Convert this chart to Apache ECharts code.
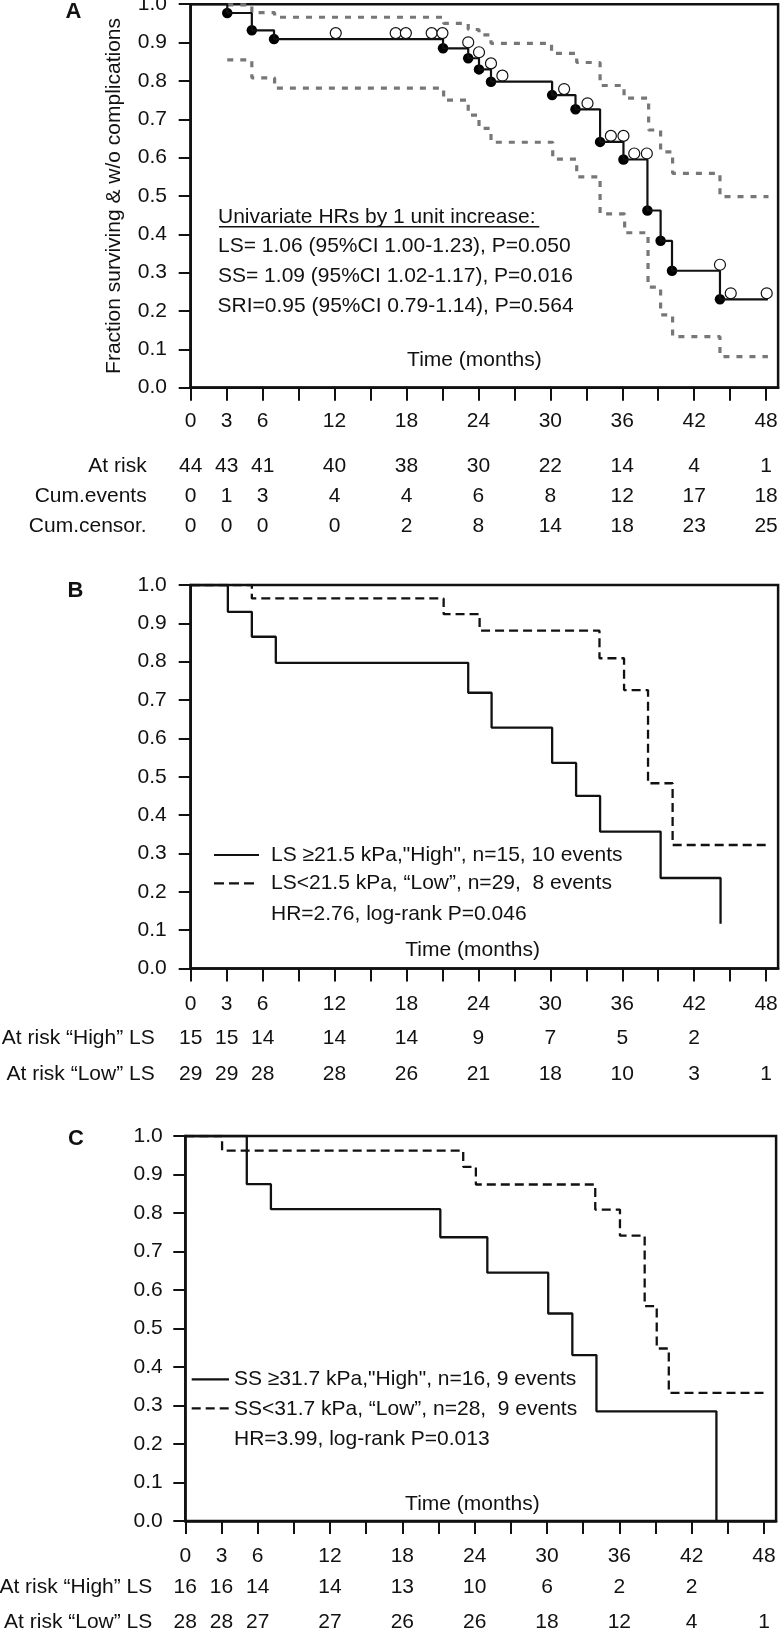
<!DOCTYPE html>
<html>
<head>
<meta charset="utf-8">
<title>Survival without complications</title>
<script src="https://cdn.jsdelivr.net/npm/echarts@6/dist/echarts.min.js"></script>
<style>
  html, body { margin: 0; padding: 0; background: #fff; }
  #chart { width: 781px; height: 1631px; }
</style>
</head>
<body>
<div id="chart"></div>
<script>
// ---- data ----
const xTicks = [0, 3, 6, 9, 12, 15, 18, 21, 24, 27, 30, 33, 36, 39, 42, 45, 48]
const riskTimes = [0, 3, 6, 12, 18, 24, 30, 36, 42, 48]

// Panel A: whole cohort, KM + 95% CI
const kmTimeA = [0, 3.05, 5.1, 6.95, 21.05, 23.15, 24.05, 25.05, 30.15, 32.1, 34.15, 36.1, 38.1, 39.2, 40.15, 44.15, 48.15]
const kmSurvA = [1.0, 0.977, 0.932, 0.909, 0.885, 0.859, 0.830, 0.798, 0.763, 0.726, 0.641, 0.595, 0.462, 0.383, 0.305, 0.2305, 0.2305]
const censorTimeA = [12.1, 17.1, 17.95, 20.1, 21.0, 23.15, 24.05, 25.05, 26.0, 31.15, 33.1, 35.05, 36.1, 37.0, 38.05, 44.15, 45.05, 48.05]
const censorSurvA = [0.909, 0.909, 0.909, 0.909, 0.909, 0.885, 0.859, 0.830, 0.798, 0.763, 0.726, 0.641, 0.641, 0.595, 0.595, 0.305, 0.2305, 0.2305]
const ciUpTimeA = [3.05, 5.1, 7.0, 21.1, 23.15, 24.05, 25.05, 30.1, 32.2, 34.15, 36.15, 38.2, 39.2, 40.2, 44.15, 48.2]
const ciUpA = [0.998, 0.978, 0.966, 0.950, 0.934, 0.920, 0.898, 0.872, 0.848, 0.788, 0.755, 0.672, 0.615, 0.559, 0.498, 0.498]
const ciLoTimeA = [3.05, 5.1, 7.0, 21.1, 23.15, 24.05, 25.05, 30.2, 32.2, 34.15, 36.2, 38.15, 39.2, 40.2, 44.15, 48.15]
const ciLoA = [0.855, 0.808, 0.781, 0.750, 0.711, 0.676, 0.640, 0.596, 0.550, 0.453, 0.404, 0.262, 0.190, 0.133, 0.081, 0.081]

const riskRowsA = ['At risk', 'Cum.events', 'Cum.censor.']
const atRiskA = [44, 43, 41, 40, 38, 30, 22, 14, 4, 1]
const cumEventsA = [0, 1, 3, 4, 4, 6, 8, 12, 17, 18]
const cumCensorA = [0, 0, 0, 0, 2, 8, 14, 18, 23, 25]

// Panel B: liver stiffness high / low
const highTimeB = [0, 3.1, 5.1, 7.1, 23.15, 25.1, 30.15, 32.15, 34.15, 39.2, 44.2]
const highSurvB = [1.0, 0.930, 0.865, 0.797, 0.719, 0.628, 0.536, 0.450, 0.357, 0.236, 0.117]
const lowTimeB = [0, 5.1, 21.1, 24.1, 34.1, 36.15, 38.15, 40.2, 48.2]
const lowSurvB = [1.0, 0.965, 0.924, 0.881, 0.809, 0.726, 0.483, 0.322, 0.322]

const riskRowsB = ['At risk “High” LS', 'At risk “Low” LS']
const atRiskHighB = [15, 15, 14, 14, 14, 9, 7, 5, 2, null]
const atRiskLowB = [29, 29, 28, 28, 26, 21, 18, 10, 3, 1]

// Panel C: spleen stiffness high / low
const highTimeC = [0, 5.1, 7.1, 21.15, 25.05, 30.1, 32.1, 34.1, 44.05]
const highSurvC = [1.0, 0.875, 0.810, 0.737, 0.645, 0.539, 0.431, 0.285, 0.0]
const lowTimeC = [0, 3.05, 23.05, 24.1, 34.0, 36.05, 38.1, 39.1, 40.1, 48.05]
const lowSurvC = [1.0, 0.962, 0.920, 0.874, 0.809, 0.741, 0.558, 0.448, 0.333, 0.333]

const riskRowsC = ['At risk “High” LS', 'At risk “Low” LS']
const atRiskHighC = [16, 16, 14, 14, 13, 10, 6, 2, 2, null]
const atRiskLowC = [28, 28, 27, 27, 26, 26, 18, 12, 4, 1]

// ---- styling helpers ----
const FONT = '"Liberation Sans", Arial, sans-serif'
const INK = '#111'
const FS = 21

const pairs = (xs, ys) => xs.map((x, i) => [x, ys[i]])

function plotX (grid, labelMargin) {
  return {
    gridIndex: grid, type: 'value', min: 0, max: 49,
    axisLine: { show: true, onZero: false, lineStyle: { color: INK, width: 2.5 } },
    axisTick: { show: true, customValues: xTicks, length: 13, lineStyle: { color: INK, width: 2 } },
    axisLabel: { customValues: riskTimes, margin: labelMargin, fontSize: FS, color: INK, fontFamily: FONT },
    splitLine: { show: false }
  }
}

function plotY (grid, labelMargin) {
  return {
    gridIndex: grid, type: 'value', min: 0, max: 1, interval: 0.1,
    axisLine: { show: true, lineStyle: { color: INK, width: 2.5 } },
    axisTick: { show: true, length: 12, lineStyle: { color: INK, width: 2 } },
    axisLabel: { margin: labelMargin, fontSize: FS, color: INK, fontFamily: FONT, formatter: v => v.toFixed(1) },
    splitLine: { show: false }
  }
}

function tableX (grid) {
  return { gridIndex: grid, type: 'value', min: 0, max: 49, show: false }
}

function tableY (grid, rows, labelMargin) {
  return {
    gridIndex: grid, type: 'category', data: rows, inverse: true,
    axisLine: { show: false }, axisTick: { show: false }, splitLine: { show: false },
    axisLabel: { margin: labelMargin, fontSize: FS, color: INK, fontFamily: FONT }
  }
}

function stepLine (grid, times, surv, lineStyle) {
  return {
    type: 'line', step: 'end', xAxisIndex: grid, yAxisIndex: grid,
    symbol: 'none', silent: true, data: pairs(times, surv), lineStyle
  }
}

// numbers of the at-risk table, placed on the time axis of their row
function riskRow (grid, row, values) {
  return {
    type: 'scatter', xAxisIndex: grid, yAxisIndex: grid, silent: true,
    symbolSize: 0, itemStyle: { color: INK, opacity: 1 },
    label: {
      show: true, position: 'inside', formatter: p => p.value[2],
      fontSize: FS, color: INK, fontFamily: FONT, textBorderWidth: 0, opacity: 1
    },
    data: riskTimes.map((t, i) => [t, row, values[i]]).filter(d => d[2] != null)
  }
}

function txt (x, y, text, align = 'left', extra = {}) {
  return {
    type: 'text', x, y, silent: true,
    style: Object.assign({
      text, fill: INK, fontSize: FS, fontFamily: FONT,
      align, textAlign: align, verticalAlign: 'middle', textVerticalAlign: 'middle'
    }, extra)
  }
}

function seg (x1, y1, x2, y2, dash) {
  return {
    type: 'line', silent: true, shape: { x1, y1, x2, y2 },
    style: { stroke: INK, lineWidth: 2.2, lineDash: dash || null }
  }
}

const frame = { show: true, borderColor: INK, borderWidth: 2.5, outerBoundsMode: 'none' }
const plain = { outerBoundsMode: 'none' }

const solid = { color: INK, width: 2.3 }
const dashed = { color: INK, width: 2.3, type: [9, 5] }
const ciStyle = { color: '#777', width: 3.2, type: [6, 7] }

const chart = echarts.init(document.getElementById('chart'))

chart.setOption({
  animation: false,
  textStyle: { fontFamily: FONT },
  grid: [
    Object.assign({ left: 190.7, top: 4.2, width: 587.4, height: 383.5 }, frame),
    Object.assign({ left: 190.7, top: 450.9, width: 587.4, height: 90.75 }, plain),
    Object.assign({ left: 190.7, top: 585, width: 587.4, height: 383.5 }, frame),
    Object.assign({ left: 190.7, top: 1020.5, width: 587.4, height: 72 }, plain),
    Object.assign({ left: 185.3, top: 1136, width: 590.8, height: 385 }, frame),
    Object.assign({ left: 185.3, top: 1570, width: 590.8, height: 70 }, plain)
  ],
  xAxis: [
    plotX(0, 23), tableX(1),
    plotX(2, 25.5), tableX(3),
    plotX(4, 24.7), tableX(5)
  ],
  yAxis: [
    Object.assign(plotY(0, 23.7), {
      name: 'Fraction surviving & w/o complications', nameLocation: 'middle', nameGap: 66,
      nameTextStyle: { fontSize: FS, color: INK, fontFamily: FONT }
    }),
    tableY(1, riskRowsA, 44),
    plotY(2, 24), tableY(3, riskRowsB, 36),
    plotY(4, 22.5), tableY(5, riskRowsC, 33)
  ],
  series: [
    // A
    stepLine(0, ciUpTimeA, ciUpA, ciStyle),
    stepLine(0, ciLoTimeA, ciLoA, ciStyle),
    stepLine(0, kmTimeA, kmSurvA, { color: INK, width: 2.2 }),
    {
      type: 'scatter', xAxisIndex: 0, yAxisIndex: 0, silent: true,
      symbol: 'circle', symbolSize: 10.5, itemStyle: { color: '#000', opacity: 1 },
      data: pairs(kmTimeA.slice(1, -1), kmSurvA.slice(1, -1))
    },
    {
      type: 'scatter', xAxisIndex: 0, yAxisIndex: 0, silent: true,
      symbol: 'circle', symbolSize: 11, symbolOffset: [0, -6],
      itemStyle: { color: '#fff', borderColor: INK, borderWidth: 1.2, opacity: 1 },
      data: pairs(censorTimeA, censorSurvA)
    },
    riskRow(1, riskRowsA[0], atRiskA),
    riskRow(1, riskRowsA[1], cumEventsA),
    riskRow(1, riskRowsA[2], cumCensorA),
    // B
    stepLine(2, lowTimeB, lowSurvB, dashed),
    stepLine(2, highTimeB, highSurvB, solid),
    riskRow(3, riskRowsB[0], atRiskHighB),
    riskRow(3, riskRowsB[1], atRiskLowB),
    // C
    stepLine(4, lowTimeC, lowSurvC, dashed),
    stepLine(4, highTimeC, highSurvC, solid),
    riskRow(5, riskRowsC[0], atRiskHighC),
    riskRow(5, riskRowsC[1], atRiskLowC)
  ],
  graphic: [
    // panel letters
    txt(73.5, 12, 'A', 'center', { fontWeight: 'bold', fontSize: 22 }),
    txt(75.5, 590.5, 'B', 'center', { fontWeight: 'bold', fontSize: 22 }),
    txt(76, 1139, 'C', 'center', { fontWeight: 'bold', fontSize: 22 }),

    // A annotations
    txt(218, 217, 'Univariate HRs by 1 unit increase:'),
    { type: 'line', silent: true, shape: { x1: 219, y1: 226.7, x2: 539.3, y2: 226.7 }, style: { stroke: INK, lineWidth: 1.4 } },
    txt(218, 246.7, 'LS= 1.06 (95%CI 1.00-1.23), P=0.050'),
    txt(218, 275.8, 'SS= 1.09 (95%CI 1.02-1.17), P=0.016'),
    txt(217.5, 306.2, 'SRI=0.95 (95%CI 0.79-1.14), P=0.564'),
    txt(474.4, 360, 'Time (months)', 'center'),

    // B legend
    seg(214, 855, 259, 855),
    txt(271, 855, 'LS ≥21.5 kPa,"High", n=15, 10 events'),
    seg(214, 883.3, 259, 883.3, [10, 5]),
    txt(271, 883.3, 'LS<21.5 kPa, “Low”, n=29,  8 events'),
    txt(271, 914, 'HR=2.76, log-rank P=0.046'),
    txt(472.6, 950.5, 'Time (months)', 'center'),

    // C legend
    seg(191.7, 1379.3, 229, 1379.3),
    txt(234, 1379.3, 'SS ≥31.7 kPa,"High", n=16, 9 events'),
    seg(191.7, 1408.3, 229, 1408.3, [9, 5]),
    txt(234, 1409, 'SS<31.7 kPa, “Low”, n=28,  9 events'),
    txt(234, 1439, 'HR=3.99, log-rank P=0.013'),
    txt(472.4, 1504.7, 'Time (months)', 'center')
  ]
})
</script>
</body>
</html>
